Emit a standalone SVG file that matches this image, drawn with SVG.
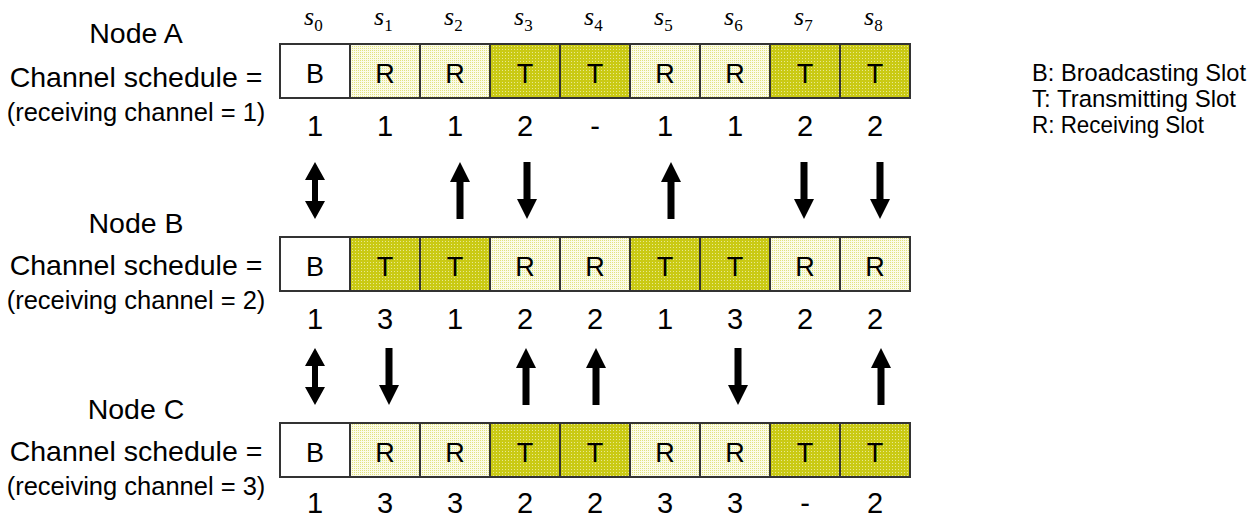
<svg xmlns="http://www.w3.org/2000/svg" width="1260" height="519" viewBox="0 0 1260 519">
  <style>
    .lbl { font-family: "Liberation Sans", Arial, sans-serif; fill: #000; text-anchor: middle; }
    .node { font-size: 28.5px; }
    .sub { font-size: 25.5px; }
    .cell { stroke: #333; stroke-width: 2; }
    .b { fill: #fff; }
    .r { fill: url(#dotLight); }
    .t { fill: url(#dotDark); }
    .sl { font-family: "Liberation Sans", Arial, sans-serif; font-size: 27px; text-anchor: middle; }
    .ch { font-family: "Liberation Sans", Arial, sans-serif; font-size: 29px; text-anchor: middle; }
    .slot { font-family: "Liberation Serif", "Times New Roman", serif; font-style: italic; font-size: 26px; }
    .slot tspan { font-size: 17px; font-style: normal; }
    .leg { font-family: "Liberation Sans", Arial, sans-serif; font-size: 24.5px; }
    .arrow { fill: #000; }
  </style>
  <defs>
    <!-- receiving slot: pale yellow dotted -->
    <pattern id="dotLight" width="2" height="2" patternUnits="userSpaceOnUse">
      <rect width="2" height="2" fill="#fbfbe8"/>
      <rect width="1" height="1" fill="#e2e27e"/>
    </pattern>
    <!-- transmitting slot: olive yellow with light dots -->
    <pattern id="dotDark" width="3" height="3" patternUnits="userSpaceOnUse">
      <rect width="3" height="3" fill="#caca14"/>
      <rect x="1" y="1" width="1" height="1" fill="#e8e890"/>
    </pattern>
    <path id="up" d="M0,0 L10,20 L3.5,20 L3.5,57 L-3.5,57 L-3.5,20 L-10,20 Z"/>
    <path id="down" d="M0,57 L10,37 L3.5,37 L3.5,0 L-3.5,0 L-3.5,37 L-10,37 Z"/>
    <path id="both" d="M0,0 L10,18 L3,18 L3,39 L10,39 L0,57 L-10,39 L-3,39 L-3,18 L-10,18 Z"/>
  </defs>

  <!-- slot indices -->
  <g id="slots" class="slot">
    <text x="304" y="25">s<tspan dy="6">0</tspan></text>
    <text x="374" y="25">s<tspan dy="6">1</tspan></text>
    <text x="444" y="25">s<tspan dy="6">2</tspan></text>
    <text x="514" y="25">s<tspan dy="6">3</tspan></text>
    <text x="584" y="25">s<tspan dy="6">4</tspan></text>
    <text x="654" y="25">s<tspan dy="6">5</tspan></text>
    <text x="724" y="25">s<tspan dy="6">6</tspan></text>
    <text x="794" y="25">s<tspan dy="6">7</tspan></text>
    <text x="864" y="25">s<tspan dy="6">8</tspan></text>
  </g>

  <!-- Node A -->
  <g id="nodeA">
    <text class="lbl node" x="136" y="43">Node A</text>
    <text class="lbl node" x="136" y="87">Channel schedule =</text>
    <text class="lbl sub" x="136" y="121">(receiving channel = 1)</text>
    <rect class="cell b" x="280" y="44" width="70" height="54"/>
    <rect class="cell r" x="350" y="44" width="70" height="54"/>
    <rect class="cell r" x="420" y="44" width="70" height="54"/>
    <rect class="cell t" x="490" y="44" width="70" height="54"/>
    <rect class="cell t" x="560" y="44" width="70" height="54"/>
    <rect class="cell r" x="630" y="44" width="70" height="54"/>
    <rect class="cell r" x="700" y="44" width="70" height="54"/>
    <rect class="cell t" x="770" y="44" width="70" height="54"/>
    <rect class="cell t" x="840" y="44" width="70" height="54"/>
    <g class="sl">
      <text x="315" y="83">B</text><text x="385" y="83">R</text><text x="455" y="83">R</text>
      <text x="525" y="83">T</text><text x="595" y="83">T</text><text x="665" y="83">R</text>
      <text x="735" y="83">R</text><text x="805" y="83">T</text><text x="875" y="83">T</text>
    </g>
    <g class="ch">
      <text x="315" y="136">1</text><text x="385" y="136">1</text><text x="455" y="136">1</text>
      <text x="525" y="136">2</text><text x="595" y="136">-</text><text x="665" y="136">1</text>
      <text x="735" y="136">1</text><text x="805" y="136">2</text><text x="875" y="136">2</text>
    </g>
  </g>

  <!-- Node B -->
  <g id="nodeB">
    <text class="lbl node" x="136" y="233">Node B</text>
    <text class="lbl node" x="136" y="275">Channel schedule =</text>
    <text class="lbl sub" x="136" y="309">(receiving channel = 2)</text>
    <rect class="cell b" x="280" y="237" width="70" height="54"/>
    <rect class="cell t" x="350" y="237" width="70" height="54"/>
    <rect class="cell t" x="420" y="237" width="70" height="54"/>
    <rect class="cell r" x="490" y="237" width="70" height="54"/>
    <rect class="cell r" x="560" y="237" width="70" height="54"/>
    <rect class="cell t" x="630" y="237" width="70" height="54"/>
    <rect class="cell t" x="700" y="237" width="70" height="54"/>
    <rect class="cell r" x="770" y="237" width="70" height="54"/>
    <rect class="cell r" x="840" y="237" width="70" height="54"/>
    <g class="sl">
      <text x="315" y="276">B</text><text x="385" y="276">T</text><text x="455" y="276">T</text>
      <text x="525" y="276">R</text><text x="595" y="276">R</text><text x="665" y="276">T</text>
      <text x="735" y="276">T</text><text x="805" y="276">R</text><text x="875" y="276">R</text>
    </g>
    <g class="ch">
      <text x="315" y="329">1</text><text x="385" y="329">3</text><text x="455" y="329">1</text>
      <text x="525" y="329">2</text><text x="595" y="329">2</text><text x="665" y="329">1</text>
      <text x="735" y="329">3</text><text x="805" y="329">2</text><text x="875" y="329">2</text>
    </g>
  </g>

  <!-- Node C -->
  <g id="nodeC">
    <text class="lbl node" x="136" y="419">Node C</text>
    <text class="lbl node" x="136" y="461">Channel schedule =</text>
    <text class="lbl sub" x="136" y="495">(receiving channel = 3)</text>
    <rect class="cell b" x="280" y="423" width="70" height="54"/>
    <rect class="cell r" x="350" y="423" width="70" height="54"/>
    <rect class="cell r" x="420" y="423" width="70" height="54"/>
    <rect class="cell t" x="490" y="423" width="70" height="54"/>
    <rect class="cell t" x="560" y="423" width="70" height="54"/>
    <rect class="cell r" x="630" y="423" width="70" height="54"/>
    <rect class="cell r" x="700" y="423" width="70" height="54"/>
    <rect class="cell t" x="770" y="423" width="70" height="54"/>
    <rect class="cell t" x="840" y="423" width="70" height="54"/>
    <g class="sl">
      <text x="315" y="462">B</text><text x="385" y="462">R</text><text x="455" y="462">R</text>
      <text x="525" y="462">T</text><text x="595" y="462">T</text><text x="665" y="462">R</text>
      <text x="735" y="462">R</text><text x="805" y="462">T</text><text x="875" y="462">T</text>
    </g>
    <g class="ch">
      <text x="315" y="513">1</text><text x="385" y="513">3</text><text x="455" y="513">3</text>
      <text x="525" y="513">2</text><text x="595" y="513">2</text><text x="665" y="513">3</text>
      <text x="735" y="513">3</text><text x="805" y="513">-</text><text x="875" y="513">2</text>
    </g>
  </g>

  <!-- connectors between schedules -->
  <g id="connectors" class="arrow">
    <use href="#both" x="315" y="162"/>
    <use href="#up" x="460" y="162"/>
    <use href="#down" x="527" y="162"/>
    <use href="#up" x="671" y="162"/>
    <use href="#down" x="804" y="162"/>
    <use href="#down" x="880" y="162"/>

    <use href="#both" x="315" y="348"/>
    <use href="#down" x="389" y="348"/>
    <use href="#up" x="526" y="348"/>
    <use href="#up" x="596" y="348"/>
    <use href="#down" x="738" y="348"/>
    <use href="#up" x="881" y="348"/>
  </g>

  <!-- legend -->
  <g id="legend" class="leg">
    <text x="1032" y="81" textLength="214" lengthAdjust="spacingAndGlyphs">B: Broadcasting Slot</text>
    <text x="1032" y="107" textLength="204" lengthAdjust="spacingAndGlyphs">T: Transmitting Slot</text>
    <text x="1032" y="133" textLength="172" lengthAdjust="spacingAndGlyphs">R: Receiving Slot</text>
  </g>
</svg>
